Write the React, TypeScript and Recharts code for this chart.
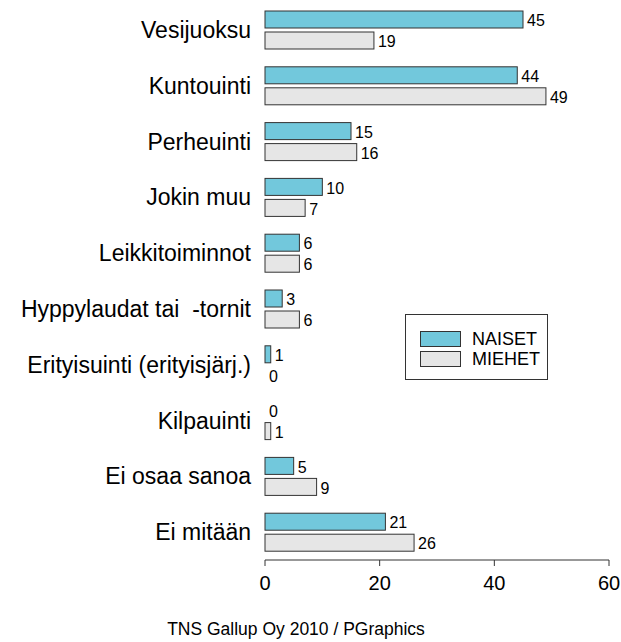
import React from 'react';
import { BarChart, Bar, XAxis, YAxis, LabelList } from 'recharts';

// Categories, top to bottom
const categories = [
  'Vesijuoksu',
  'Kuntouinti',
  'Perheuinti',
  'Jokin muu',
  'Leikkitoiminnot',
  'Hyppylaudat tai  -tornit',
  'Erityisuinti (erityisjärj.)',
  'Kilpauinti',
  'Ei osaa sanoa',
  'Ei mitään',
];

// Series values (%)
const naiset = [45, 44, 15, 10, 6, 3, 1, 0, 5, 21];
const miehet = [19, 49, 16, 7, 6, 6, 0, 1, 9, 26];

const xTicks = [0, 20, 40, 60];

const BLUE = '#72C8DC';
const GRAY = '#E6E6E6';
const STROKE = '#333333';
const FONT = '"Liberation Sans", Arial, sans-serif';

const seriesInfo = [
  { key: 'naiset', label: 'NAISET', color: BLUE },
  { key: 'miehet', label: 'MIEHET', color: GRAY },
];

const data = categories.map((name, i) => ({
  name,
  naiset: naiset[i],
  miehet: miehet[i],
}));

const CategoryTick = (props: any) => {
  const { x, y, payload } = props;
  return (
    <text
      x={x}
      y={y}
      dy={8}
      textAnchor="end"
      fontSize={23}
      fill="#000"
      fontFamily={FONT}
      style={{ whiteSpace: 'pre' }}
    >
      {payload.value}
    </text>
  );
};

// zero-valued bars get a tiny width so their label still shows; the shape skips them
const tinyForZero = (v: any) => (v === 0 ? 0.001 : 0);

const BarShape = (props: any) => {
  const { x, y, width, height, fill, value } = props;
  const v = Array.isArray(value) ? value[1] - value[0] : value;
  if (!v) return null;
  return <rect x={x} y={y} width={width} height={height} fill={fill} stroke={STROKE} strokeWidth={1} />;
};

const App = () => {
  return (
    <div style={{ position: 'absolute', left: 0, top: 0, width: 621, height: 642, background: '#fff' }}>
      <BarChart
        width={621}
        height={642}
        data={data}
        layout="vertical"
        margin={{ top: 2, right: 12, bottom: 42, left: 0 }}
        barSize={17}
        barGap={4}
      >
        <XAxis
          type="number"
          domain={[0, 60]}
          ticks={xTicks}
          height={40}
          tickSize={6}
          tickMargin={10}
          stroke={STROKE}
          tick={{ fontSize: 20, fill: '#000', fontFamily: FONT }}
        />
        <YAxis
          type="category"
          dataKey="name"
          width={265}
          axisLine={false}
          tickLine={false}
          tickSize={0}
          tickMargin={14}
          interval={0}
          tick={<CategoryTick />}
        />
        <Bar
          dataKey="naiset"
          name="NAISET"
          fill={BLUE}
          minPointSize={tinyForZero}
          shape={<BarShape />}
          isAnimationActive={false}
        >
          <LabelList
            dataKey="naiset"
            position="right"
            offset={4}
            fontSize={16}
            fill="#000"
            fontFamily={FONT}
            dy={1}
            formatter={(v: any) => String(v)}
          />
        </Bar>
        <Bar
          dataKey="miehet"
          name="MIEHET"
          fill={GRAY}
          minPointSize={tinyForZero}
          shape={<BarShape />}
          isAnimationActive={false}
        >
          <LabelList
            dataKey="miehet"
            position="right"
            offset={4}
            fontSize={16}
            fill="#000"
            fontFamily={FONT}
            dy={1}
            formatter={(v: any) => String(v)}
          />
        </Bar>
      </BarChart>

      {/* legend */}
      <div
        style={{
          position: 'absolute',
          left: 405,
          top: 314,
          width: 143,
          height: 66,
          border: '1px solid #333',
          boxSizing: 'border-box',
          padding: '14px 0 0 14px',
          fontFamily: FONT,
          fontSize: 18,
          background: '#fff',
        }}
      >
        {seriesInfo.map((item) => (
          <div key={item.key} style={{ display: 'flex', alignItems: 'center', height: 20 }}>
            <div
              style={{
                width: 41,
                height: 16,
                background: item.color,
                border: '1px solid #333',
                boxSizing: 'border-box',
                marginRight: 11,
              }}
            />
            <span style={{ lineHeight: '18px' }}>{item.label}</span>
          </div>
        ))}
      </div>

      <div
        style={{
          position: 'absolute',
          left: 0,
          width: 592,
          top: 619,
          textAlign: 'center',
          fontFamily: FONT,
          fontSize: 17.5,
          lineHeight: '20px',
          color: '#000',
        }}
      >
        TNS Gallup Oy 2010 / PGraphics
      </div>
    </div>
  );
};

export default App;
